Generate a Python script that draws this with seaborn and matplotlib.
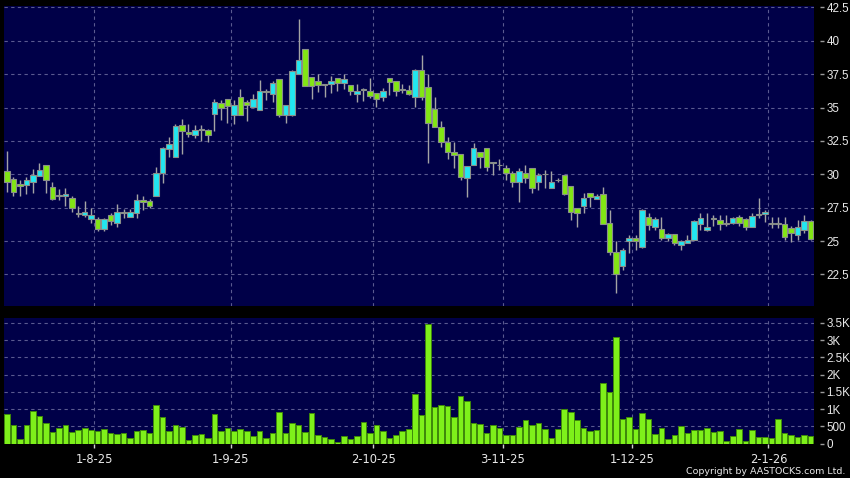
import numpy as np
import pandas as pd
import matplotlib
matplotlib.use("Agg")
import matplotlib.pyplot as plt
import seaborn as sns

# ==========================================
# DATA (daily candles)
# ==========================================
open_ = [30.21, 29.63, 29.26, 29.18, 29.46, 29.91, 30.68, 29.03, 28.48, 28.39,
         28.21, 27.11, 26.96, 26.69, 26.64, 25.94, 26.99, 26.34, 27.19, 26.84,
         27.14, 28.09, 27.99, 28.34, 30.08, 31.88, 31.28, 33.67, 33.20, 32.95,
         33.40, 33.35, 34.52, 35.34, 35.62, 34.42, 35.77, 35.44, 35.02, 34.79,
         36.24, 35.99, 37.11, 34.42, 34.42, 37.54, 39.41, 37.31, 36.96, 36.76,
         36.74, 37.24, 36.81, 36.71, 35.99, 36.39, 36.22, 36.12, 35.82, 37.19,
         36.99, 36.39, 36.32, 35.77, 37.79, 36.51, 34.87, 33.52, 32.40, 31.70,
         31.53, 29.71, 30.70, 31.70, 31.95, 30.92, 30.72, 30.50, 30.08, 29.46,
         30.13, 30.46, 29.43, 30.02, 28.96, 29.57, 29.96, 29.16, 27.46, 27.59,
         28.58, 28.14, 28.51, 26.34, 24.17, 23.10, 25.02, 25.22, 24.52, 26.79,
         26.02, 25.89, 25.24, 25.52, 24.67, 24.84, 25.09, 26.27, 25.82, 26.70,
         26.59, 26.30, 26.38, 26.79, 26.64, 26.09, 27.01, 27.04, 26.30, 26.29,
         26.27, 25.97, 25.47, 25.84, 26.51]

close = [29.46, 28.71, 29.13, 29.56, 29.96, 30.31, 29.56, 28.14, 28.41, 28.53,
         27.46, 27.06, 27.19, 26.94, 25.94, 26.64, 26.49, 27.16, 27.09, 27.16,
         28.06, 27.94, 27.59, 30.08, 31.95, 32.25, 33.65, 33.22, 33.00, 33.35,
         33.35, 32.95, 35.39, 34.94, 35.12, 35.22, 34.42, 35.22, 35.67, 36.22,
         36.19, 36.81, 34.42, 35.19, 37.76, 38.53, 36.59, 36.61, 36.66, 36.71,
         36.96, 36.81, 37.16, 36.22, 36.27, 36.34, 35.87, 35.67, 36.24, 36.94,
         36.22, 36.34, 36.02, 37.79, 35.77, 33.82, 33.52, 32.40, 31.70, 31.45,
         29.78, 30.65, 31.95, 31.28, 30.53, 30.88, 30.68, 30.08, 29.41, 30.21,
         29.71, 28.96, 29.96, 29.99, 29.46, 29.55, 28.51, 27.16, 27.09, 28.26,
         28.29, 28.41, 26.27, 24.17, 22.54, 24.35, 25.22, 25.02, 27.34, 26.19,
         26.66, 25.22, 25.52, 24.84, 24.97, 25.09, 26.51, 26.71, 26.04, 26.68,
         26.27, 26.28, 26.76, 26.34, 26.09, 26.91, 26.99, 27.19, 26.28, 26.31,
         25.27, 25.59, 26.09, 26.51, 25.14]

high = [31.75, 29.83, 29.58, 29.83, 30.38, 30.83, 30.70, 29.46, 28.88, 28.96,
        28.34, 27.64, 28.01, 27.46, 26.84, 26.70, 27.09, 27.79, 27.39, 27.41,
        28.54, 28.34, 28.14, 30.53, 32.08, 32.82, 33.77, 34.15, 33.77, 33.67,
        33.67, 33.42, 35.62, 35.57, 35.62, 35.57, 36.39, 35.57, 36.02, 37.06,
        36.37, 36.99, 37.11, 35.19, 37.80, 41.63, 39.41, 37.31, 37.51, 36.76,
        37.36, 37.24, 37.51, 36.71, 36.76, 36.44, 37.21, 36.12, 36.44, 37.19,
        36.99, 36.76, 36.69, 37.89, 38.93, 37.51, 35.77, 34.02, 32.82, 32.40,
        31.53, 30.65, 32.33, 31.70, 31.95, 30.92, 31.13, 30.70, 30.21, 30.46,
        30.70, 30.46, 30.08, 30.33, 30.28, 29.71, 29.96, 29.16, 27.46, 28.58,
        28.58, 28.51, 29.08, 27.29, 24.97, 24.47, 25.47, 25.47, 27.39, 27.09,
        26.84, 26.79, 25.59, 25.52, 25.09, 25.47, 26.59, 27.09, 27.09, 26.96,
        26.96, 26.96, 26.84, 26.96, 26.71, 27.09, 28.26, 27.34, 26.84, 26.84,
        26.84, 26.14, 26.59, 26.96, 26.59]

low = [28.71, 28.34, 28.34, 28.54, 28.63, 29.90, 28.63, 28.04, 28.04, 27.59,
       27.21, 26.84, 26.79, 26.39, 25.79, 25.79, 26.22, 26.09, 26.71, 26.84,
       26.71, 27.34, 27.46, 28.34, 29.33, 31.33, 31.28, 31.53, 32.82, 32.70,
       32.52, 32.45, 33.27, 34.07, 33.82, 33.77, 34.42, 34.02, 35.02, 34.79,
       35.57, 35.44, 34.32, 33.82, 34.40, 37.50, 36.59, 35.67, 36.17, 35.82,
       36.12, 36.27, 36.37, 35.94, 35.44, 35.52, 35.74, 35.07, 35.52, 35.94,
       35.87, 36.07, 35.94, 35.07, 35.57, 30.83, 33.52, 32.08, 31.13, 30.46,
       29.58, 28.29, 30.70, 30.46, 30.28, 29.96, 30.33, 29.58, 29.03, 27.96,
       29.38, 28.63, 28.83, 28.96, 28.96, 29.46, 28.46, 26.59, 26.09, 27.14,
       27.54, 28.14, 26.27, 23.97, 21.10, 22.85, 24.10, 24.35, 24.47, 25.84,
       25.84, 25.09, 24.97, 24.72, 24.35, 24.84, 25.09, 25.84, 25.79, 26.14,
       25.84, 26.14, 26.29, 26.14, 25.84, 26.09, 26.71, 26.46, 25.97, 25.97,
       25.09, 24.92, 25.09, 25.59, 25.09]

volume = [856, 525, 136, 525, 954, 808, 584, 341, 448, 525,
          331, 399, 457, 399, 360, 428, 302, 272, 292, 156,
          350, 389, 302, 1129, 759, 370, 545, 487, 88, 253,
          263, 150, 846, 370, 448, 370, 418, 360, 204, 360,
          146, 292, 915, 292, 594, 535, 321, 876, 253, 195,
          136, 58, 224, 136, 224, 623, 292, 545, 360, 165,
          243, 350, 428, 1450, 827, 3464, 1051, 1119, 1080, 759,
          1372, 1226, 584, 555, 292, 525, 438, 234, 243, 487,
          681, 545, 584, 428, 146, 409, 1002, 915, 671, 438,
          350, 399, 1771, 1498, 3104, 720, 759, 418, 876, 720,
          272, 457, 126, 234, 516, 302, 389, 389, 457, 331,
          370, 78, 224, 418, 78, 389, 195, 185, 146, 710,
          292, 253, 195, 253, 204]

# month labels (first trading day of each month) and their day index
date_labels = ["1-8-25", "1-9-25", "2-10-25", "3-11-25", "1-12-25", "2-1-26"]
date_index = [13, 34, 56, 76, 96, 117]

price_ticks = [22.5, 25, 27.5, 30, 32.5, 35, 37.5, 40, 42.5]
price_labels = ["22.5", "25", "27.5", "30", "32.5", "35", "37.5", "40", "42.5"]
vol_ticks = [0, 500, 1000, 1500, 2000, 2500, 3000, 3500]
vol_labels = ["0", "500", "1K", "1.5K", "2K", "2.5K", "3K", "3.5K"]

# ==========================================
# STYLE
# ==========================================
NAVY = "#000048"
UP = "#22e6f0"
DOWN = "#82e614"
VOL_GREEN = "#7ef01a"
GRID = "#5a5a90"
TEXT = "#e8e8e8"

sns.set_theme(style="dark")
plt.rcParams["font.family"] = ["DejaVu Sans"]

df = pd.DataFrame({"open": open_, "high": high, "low": low,
                   "close": close, "volume": volume})
df["idx"] = np.arange(len(df))
df["bottom"] = df[["open", "close"]].min(axis=1)
df["body"] = (df["close"] - df["open"]).abs().clip(lower=0.04)
df["color"] = np.where(df["close"] > df["open"], UP, DOWN)

fig = plt.figure(figsize=(8.5, 4.78), dpi=100, facecolor="black")
ax1 = fig.add_axes([4 / 850, 172 / 478, 810 / 850, 300 / 478])
ax2 = fig.add_axes([4 / 850, 34.5 / 478, 810 / 850, 125.5 / 478])

xlim = (-0.46, 124.54)
grid_x = [i + 0.5 for i in date_index]


def style_axis(ax):
    ax.set_facecolor(NAVY)
    for s in ax.spines.values():
        s.set_visible(False)
    ax.spines["right"].set_position(("outward", 4))
    ax.yaxis.tick_right()
    ax.tick_params(axis="y", colors="#9a9a9a", labelcolor=TEXT,
                   length=3, width=1, pad=2, left=False, right=True,
                   direction="out")
    for lab in ax.get_yticklabels():
        lab.set_fontfamily("Liberation Sans")
        lab.set_fontsize(8.4)
    ax.set_xlim(*xlim)
    ax.set_xlabel("")
    ax.set_ylabel("")
    ax.grid(False)
    for gx in grid_x:
        ax.axvline(gx, color=GRID, lw=0.8, ls=(0, (3, 3)), zorder=0)


# ==========================================
# PRICE PANEL - CANDLESTICKS
# ==========================================
ax1.vlines(df["idx"], df["low"], df["high"], color="#a4a4a4", lw=1, zorder=2)
ax1.bar(df["idx"], df["body"], bottom=df["bottom"], width=0.84,
        color=df["color"], edgecolor="#8a8f8a", linewidth=0.8, zorder=3)
ax1.set_ylim(20.14, 42.6)
ax1.set_yticks(price_ticks)
ax1.set_yticklabels(price_labels)
style_axis(ax1)
for py in price_ticks:
    ax1.axhline(py, color=GRID, lw=0.8, ls=(0, (3, 3)), zorder=0)
ax1.tick_params(axis="x", bottom=False, labelbottom=False)

# ==========================================
# VOLUME PANEL
# ==========================================
sns.barplot(data=df, x="idx", y="volume", native_scale=True, width=0.86,
            color=VOL_GREEN, saturation=1, edgecolor="#3f8a0a", linewidth=0.7,
            errorbar=None, ax=ax2, zorder=3)
ax2.set_ylim(0, 3645)
ax2.set_yticks(vol_ticks)
ax2.set_yticklabels(vol_labels)
style_axis(ax2)
for vy in vol_ticks[1:]:
    ax2.axhline(vy, color=GRID, lw=0.8, ls=(0, (3, 3)), zorder=0)
ax2.set_xticks(grid_x)
ax2.set_xticklabels(date_labels)
ax2.tick_params(axis="x", colors="#cfcfcf", labelcolor=TEXT, labelsize=8.3,
                length=3, width=1, pad=4, bottom=True)

fig.text(0.995, 0.004, "Copyright by AASTOCKS.com Ltd.", color=TEXT,
         fontsize=6.8, ha="right", va="bottom")

fig.savefig("out.png", dpi=100, facecolor="black")
